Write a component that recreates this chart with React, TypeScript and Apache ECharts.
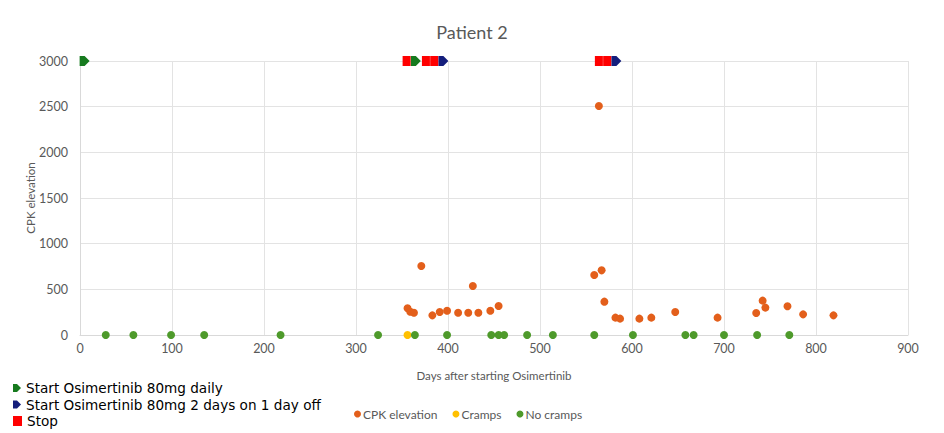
import React, { useEffect, useRef } from "react";
import * as echarts from "echarts";

const title = "Patient 2";
const xTitle = "Days after starting Osimertinib";
const yTitle = "CPK elevation";

const cpkDays = [356, 359, 363, 371, 383, 391, 399, 411, 422, 427, 433, 446, 455, 559, 564, 567, 570, 582, 587, 608, 621, 647, 693, 735, 742, 745, 769, 786, 819];
const cpkValues = [292, 255, 244, 755, 215, 252, 266, 244, 244, 537, 244, 266, 318, 657, 2507, 708, 365, 190, 179, 179, 190, 252, 190, 241, 376, 300, 314, 226, 215];

const crampDays = [356];
const crampValues = [0];

const noCrampDays = [28, 58, 99, 135, 218, 324, 364, 399, 447, 455, 461, 486, 514, 559, 601, 658, 667, 700, 736, 771];
const noCrampValues = [0, 0, 0, 0, 0, 0, 0, 0, 0, 0, 0, 0, 0, 0, 0, 0, 0, 0, 0, 0];

const startDailyDays = [5, 365];
const startIntermittentDays = [395, 583];
const stopDays = [355, 376, 385, 564, 573];
const markerLevel = 3000;

const seriesNames = ["CPK elevation", "Cramps", "No cramps"];
const markerNames = [
  "Start Osimertinib 80mg daily",
  "Start Osimertinib 80mg 2 days on 1 day off",
  "Stop",
];

const homePlate = "path://M0,0 L5,0 L10,5 L5,10 L0,10 Z";

export default function App() {
  const ref = useRef<HTMLDivElement>(null);
  useEffect(() => {
    if (!ref.current) return;
    const chart = echarts.init(ref.current, null, { renderer: "svg" });
    const font = "Lato";
    const gray = "#595959";
    const pair = (xs: number[], ys: number[]) => xs.map((x, i) => [x, ys[i]]);
    const lvl = (xs: number[]) => xs.map((x) => [x, markerLevel]);
    const markerIcons = [homePlate, homePlate, "rect"];
    const markerLegendTops = [376, 392.5, 409];
    chart.setOption({
      animation: false,
      backgroundColor: "#fff",
      title: {
        text: title,
        left: "center",
        top: 18,
        textStyle: { fontFamily: font, fontSize: 18, fontWeight: "normal", color: gray },
      },
      grid: { left: 80, right: 36, top: 61, bottom: 98, containLabel: false },
      xAxis: {
        type: "value",
        min: 0,
        max: 900,
        interval: 100,
        name: xTitle,
        nameLocation: "middle",
        nameGap: 34,
        nameMoveOverlap: false,
        nameTextStyle: { fontFamily: font, fontSize: 11.5, color: gray },
        axisLine: { show: true, lineStyle: { color: "#d9d9d9" } },
        axisTick: { show: false },
        axisLabel: { fontFamily: font, fontSize: 12.5, color: gray, margin: 7 },
        splitLine: { show: true, lineStyle: { color: "#e3e3e3" } },
      },
      yAxis: {
        type: "value",
        min: 0,
        max: 3000,
        interval: 500,
        name: yTitle,
        nameLocation: "middle",
        nameGap: 44,
        nameMoveOverlap: false,
        nameTextStyle: { fontFamily: font, fontSize: 11.5, color: gray },
        axisLine: { show: true, lineStyle: { color: "#d9d9d9" } },
        axisTick: { show: false },
        axisLabel: {
          fontFamily: font,
          fontSize: 12.5,
          color: gray,
          margin: 12,
          formatter: (v: number) => String(v),
        },
        splitLine: { show: true, lineStyle: { color: "#e3e3e3" } },
      },
      legend: [
        {
          data: seriesNames.map((n) => ({ name: n, icon: "circle" })),
          left: 349,
          top: 403,
          itemWidth: 7,
          itemHeight: 7,
          itemGap: 15,
          textStyle: { fontFamily: font, fontSize: 12, color: gray, padding: [0, 0, 0, -3] },
        },
        ...markerNames.map((n, i) => ({
          data: [{ name: n, icon: markerIcons[i] }],
          left: 8,
          top: markerLegendTops[i],
          itemWidth: i === 2 ? 9 : 8,
          itemHeight: 10,
          itemGap: 0,
          textStyle: { fontFamily: "DejaVu Sans", fontSize: 13.6, color: "#000", padding: [0, 0, 0, 0] },
        })),
      ],
      series: [
        {
          name: seriesNames[0],
          type: "scatter",
          symbol: "circle",
          symbolSize: 8,
          itemStyle: { color: "#E35F1B", opacity: 1 },
          data: pair(cpkDays, cpkValues),
          z: 3,
        },
        {
          name: seriesNames[1],
          type: "scatter",
          symbol: "circle",
          symbolSize: 8,
          itemStyle: { color: "#FFC000", opacity: 1 },
          data: pair(crampDays, crampValues),
          z: 2,
        },
        {
          name: seriesNames[2],
          type: "scatter",
          symbol: "circle",
          symbolSize: 8,
          itemStyle: { color: "#4E9A2B", opacity: 1 },
          data: pair(noCrampDays, noCrampValues),
          z: 3,
        },
        {
          name: markerNames[0],
          type: "scatter",
          symbol: homePlate,
          symbolSize: [10, 10],
          itemStyle: { color: "#167A1E", opacity: 1 },
          data: lvl(startDailyDays),
          z: 4,
        },
        {
          name: markerNames[1],
          type: "scatter",
          symbol: homePlate,
          symbolSize: [10, 10],
          itemStyle: { color: "#141E7C", opacity: 1 },
          data: lvl(startIntermittentDays),
          z: 4,
        },
        {
          name: markerNames[2],
          type: "scatter",
          symbol: "rect",
          symbolSize: [8, 10],
          itemStyle: { color: "#FF0000", opacity: 1 },
          data: lvl(stopDays),
          z: 5,
        },
      ],
    });
    return () => chart.dispose();
  }, []);
  return <div ref={ref} style={{ width: 944, height: 433, position: "absolute", left: 0, top: 0 }} />;
}
